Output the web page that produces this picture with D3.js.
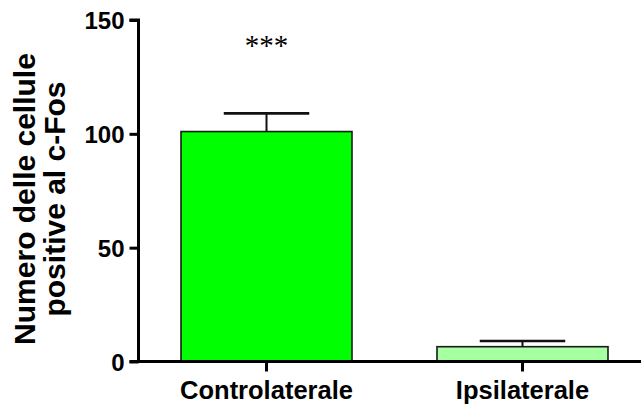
<!DOCTYPE html>
<html>
<head>
<meta charset="utf-8">
<script src="https://cdn.jsdelivr.net/npm/d3@7"></script>
<style>
  html, body { margin: 0; padding: 0; background: #fff; }
  svg { display: block; }
  text { font-family: "Liberation Sans", Arial, sans-serif; font-weight: bold; fill: #000; }
</style>
</head>
<body>
<svg id="chart" width="641" height="405"></svg>
<script>
// Group names, mean counts and error (upper bar end) values
const categories = ["Controlaterale", "Ipsilaterale"];
const means = [101, 6.5];
const errorTops = [109, 9];
const barColors = ["#00ff00", "#a6ffa0"];
const yTicks = [0, 50, 100, 150];
const significance = ["***", ""];
const yTitleLines = ["Numero delle cellule", "positive al c-Fos"];

const svg = d3.select("#chart");
const x0 = 138.5, x1 = 641, yTop = 20, yBase = 361.5;

const x = d3.scaleBand()
  .domain(categories)
  .range([181, 608])
  .paddingInner(0.332)
  .paddingOuter(0);

const y = d3.scaleLinear().domain([0, 150]).range([yBase, yTop]);

const g = svg.append("g");

// Bars
g.selectAll("rect.bar")
  .data(categories)
  .join("rect")
  .attr("class", "bar")
  .attr("x", d => x(d))
  .attr("width", x.bandwidth())
  .attr("y", (d, i) => y(means[i]))
  .attr("height", (d, i) => y(0) - y(means[i]))
  .attr("fill", (d, i) => barColors[i])
  .attr("stroke", "#1a1a1a")
  .attr("stroke-width", 1.6);

// Error bars (upper side only) and significance marks
categories.forEach((c, i) => {
  const cx = x(c) + x.bandwidth() / 2;
  const capHalf = x.bandwidth() / 4;
  g.append("line")
    .attr("x1", cx).attr("x2", cx)
    .attr("y1", y(errorTops[i])).attr("y2", y(means[i]))
    .attr("stroke", "#111").attr("stroke-width", 2);
  g.append("line")
    .attr("x1", cx - capHalf).attr("x2", cx + capHalf)
    .attr("y1", y(errorTops[i])).attr("y2", y(errorTops[i]))
    .attr("stroke", "#111").attr("stroke-width", 2.6);
  if (significance[i]) {
    g.append("text")
      .attr("x", cx).attr("y", 55)
      .attr("text-anchor", "middle")
      .style("font-family", "'Liberation Serif', 'Times New Roman', serif")
      .style("font-weight", "normal")
      .style("font-size", "29px")
      .text(significance[i]);
  }
});

// Y axis
const yAxis = d3.axisLeft(y).tickValues(yTicks).tickSize(9).tickPadding(5).tickFormat(d3.format("d"));
const ya = svg.append("g").attr("transform", `translate(${x0},0)`).call(yAxis);
ya.select(".domain").attr("d", `M-9,${yTop}H0V${yBase}`).attr("stroke", "#000").attr("stroke-width", 3).attr("fill", "none");
ya.selectAll(".tick line").attr("stroke", "#000").attr("stroke-width", 3);
ya.selectAll(".tick text").style("font-size", "24px").attr("dy", "0.36em");

// X axis
const xAxis = d3.axisBottom(x).tickSize(10).tickPadding(0);
const xa = svg.append("g").attr("transform", `translate(0,${yBase})`).call(xAxis);
xa.select(".domain").attr("d", `M${x0 - 9},0H${x1}`).attr("stroke", "#000").attr("stroke-width", 3);
xa.selectAll(".tick line").attr("stroke", "#000").attr("stroke-width", 3);
xa.selectAll(".tick text").style("font-size", "25.5px").attr("y", 37.5).attr("dy", 0);

// Y axis title
const title = svg.append("text")
  .attr("transform", `translate(35,199) rotate(-90)`)
  .attr("text-anchor", "middle")
  .style("font-size", "30px");
title.selectAll("tspan")
  .data(yTitleLines)
  .join("tspan")
  .attr("x", 0)
  .attr("dy", (d, i) => i === 0 ? 0 : "1em")
  .text(d => d);
</script>
</body>
</html>
